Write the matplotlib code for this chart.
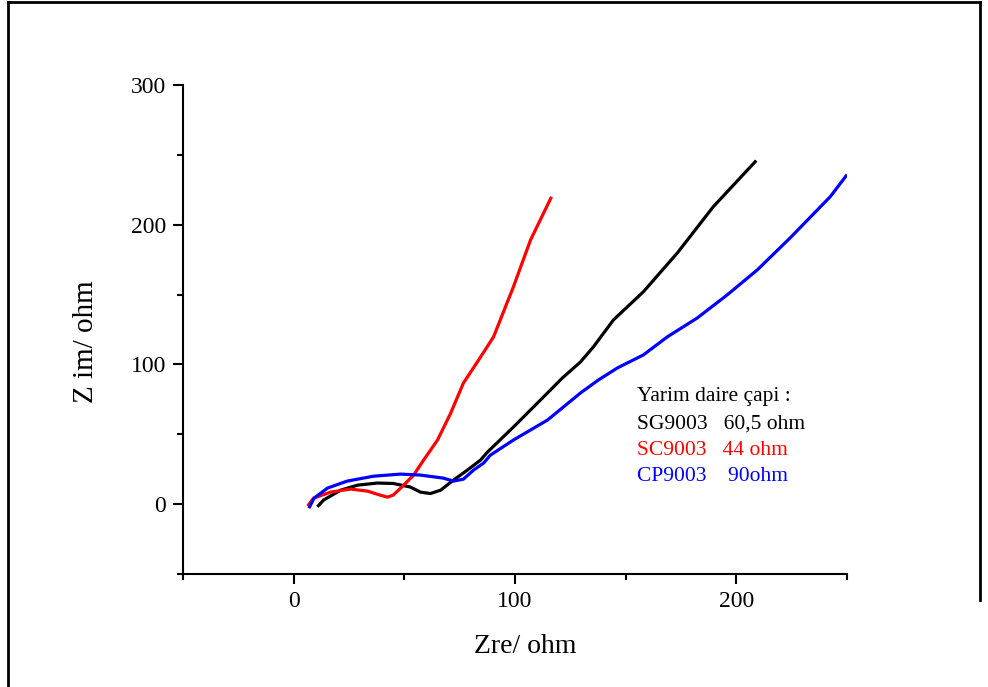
import matplotlib
matplotlib.use("Agg")
import matplotlib.pyplot as plt
from matplotlib.lines import Line2D
from matplotlib.ticker import MultipleLocator

plt.rcParams['font.family'] = ['Liberation Serif', 'DejaVu Serif']

# Nyquist data (Zre, Z im) in ohm
sg_zre = [10.7, 13.5, 21.2, 28.9, 37.9, 45, 52.8, 57.3, 61.8, 66.4, 72.2, 78.5, 84.4,
          87.6, 99.3, 114.7, 121.4, 129.6, 135.4, 144.5, 158, 173.4, 189.6, 209]
sg_zim = [-1.9, 2.9, 10, 13.6, 15.1, 14.8, 12.2, 8.6, 7.6, 10, 17.2, 24.4, 31.5,
          37.3, 55.2, 79.6, 90.3, 101.8, 112.5, 131.9, 152, 179.9, 212.9, 245.9]

sc_zre = [6.3, 9, 16.7, 25.7, 33.4, 39, 42.4, 45, 49.7, 54.2, 58.7, 65, 70.9, 76.7,
          83.5, 90.3, 99.3, 107, 116.5]
sc_zim = [-1.4, 4.3, 8.6, 10.8, 9.3, 6.5, 5, 6.5, 13.6, 20.8, 31.5, 45.9, 65, 86.7,
          103, 119.7, 155.6, 189, 220]

cp_zre = [6.9, 9.2, 15.3, 24.2, 36.1, 48.3, 57.3, 67.7, 72.2, 76.7, 81.3, 85.8, 88.9,
          99.3, 114.7, 129.6, 137.7, 146.3, 158, 168.8, 182.4, 195.9, 209.5, 224.4,
          242.4, 250]
cp_zim = [-2.9, 4.3, 11.5, 16.5, 20, 21.5, 20.8, 18.6, 16.5, 17.9, 24.4, 29.4, 35.1,
          45.9, 60.2, 79.6, 88.9, 97.5, 106.8, 119.7, 133.3, 149.8, 167.7, 190.7,
          220, 235.8]

note_title = "Yarim daire çapi :"
note_lines = ["SG9003   60,5 ohm", "SC9003   44 ohm", "CP9003    90ohm"]
note_colors = ["black", "#ff0000", "#0000ff"]

fig = plt.figure(figsize=(9.88, 6.87), dpi=100)
ax = fig.add_axes([183 / 988, 1 - 574 / 687, (847 - 183) / 988, (574 - 85) / 687])

lw = 2.3
ax.plot(sg_zre, sg_zim, color="black", lw=lw, solid_capstyle="butt")
ax.plot(sc_zre, sc_zim, color="#ff0000", lw=lw, solid_capstyle="butt")
ax.plot(cp_zre, cp_zim, color="#0000ff", lw=lw, solid_capstyle="butt")

ax.set_xlim(-50, 250)
ax.set_ylim(-50, 300)
ax.xaxis.set_major_locator(MultipleLocator(100))
ax.xaxis.set_minor_locator(MultipleLocator(50))
ax.yaxis.set_major_locator(MultipleLocator(100))
ax.yaxis.set_minor_locator(MultipleLocator(50))

for s in ("top", "right"):
    ax.spines[s].set_visible(False)
for s in ("left", "bottom"):
    ax.spines[s].set_linewidth(1.5)
ax.tick_params(which="major", direction="out", length=7, width=1.5, labelsize=17, pad=5)
ax.tick_params(which="minor", direction="out", length=4, width=1.5)

ax.set_xlabel("Zre/ ohm", fontsize=20)
ax.xaxis.set_label_coords(0.515, -0.123)
ax.set_ylabel("Z im/ ohm", fontsize=21)
ax.yaxis.set_label_coords(-0.126, 0.475)

note_x, note_y0, note_dy = 0.684, 0.362, 0.0545
ax.text(note_x, note_y0, note_title, transform=ax.transAxes, fontsize=15.5,
        color="black", va="center", ha="left")
for i, (t, c) in enumerate(zip(note_lines, note_colors)):
    ax.text(note_x, note_y0 - (i + 1) * note_dy, t, transform=ax.transAxes,
            fontsize=15.5, color=c, va="center", ha="left")

# page frame
fw = 2.0
fig.add_artist(Line2D([8 / 988, 8 / 988], [0, 1 - 2 / 687], color="black", lw=fw,
                      transform=fig.transFigure))
fig.add_artist(Line2D([8 / 988, 980 / 988], [1 - 2 / 687, 1 - 2 / 687], color="black",
                      lw=fw, transform=fig.transFigure))
fig.add_artist(Line2D([980 / 988, 980 / 988], [1 - 2 / 687, 1 - 600 / 687], color="black",
                      lw=fw, transform=fig.transFigure))

fig.savefig("out.png", dpi=100)
